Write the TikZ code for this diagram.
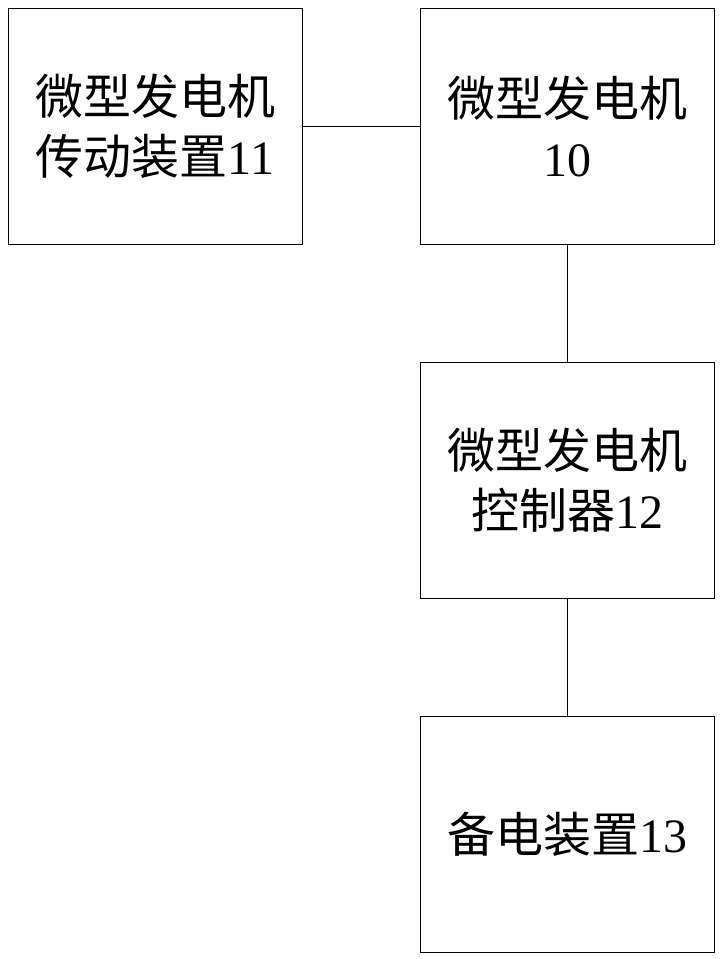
\documentclass[tikz,border=0pt]{standalone}
\usepackage{fontspec}
\setmainfont{Liberation Serif}
\newfontfamily\cjk{Noto Sans CJK SC}
\usetikzlibrary{positioning}

\begin{document}
\begin{tikzpicture}[
    x=1pt, y=1pt,
    node distance=118pt and 118pt,
    unitbox/.style={rectangle, draw, line width=0.8pt, minimum width=294pt,
                 minimum height=236pt, inner sep=0pt, outer sep=0pt, align=center,
                 font=\fontsize{48}{60}\selectfont},
    link/.style={line width=0.8pt},
]
    \useasboundingbox (0,0) rectangle (726,-959);
    \node[unitbox, anchor=north west] (drive) at (8,-8) {{\cjk 微型发电机}\\{\cjk 传动装置}11};
    \node[unitbox, right=of drive] (gen) {{\cjk 微型发电机}\\10};
    \node[unitbox, below=of gen] (ctrl) {{\cjk 微型发电机}\\{\cjk 控制器}12};
    \node[unitbox, below=of ctrl] (backup) {{\cjk 备电装置}13};

    \draw[link] (drive) -- (gen);
    \draw[link] (gen) -- (ctrl);
    \draw[link] (ctrl) -- (backup);
\end{tikzpicture}
\end{document}
